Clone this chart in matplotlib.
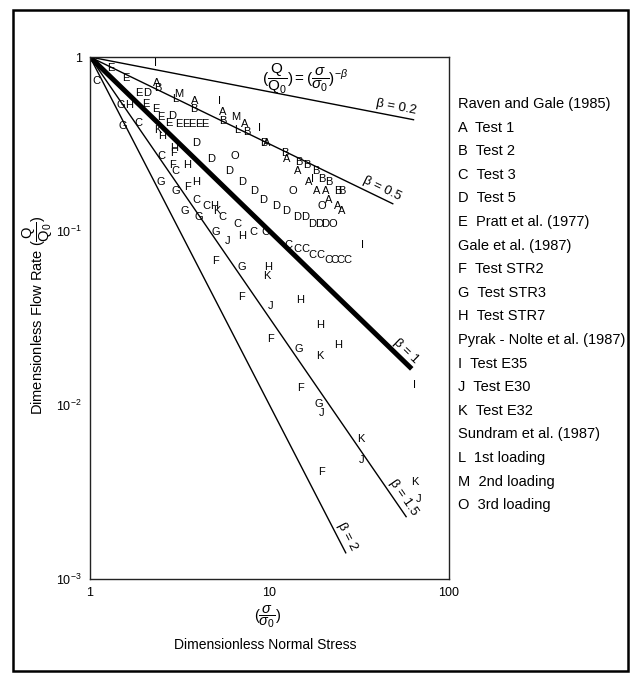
import numpy as np
import matplotlib.pyplot as plt
from matplotlib.patches import Rectangle

plt.rcParams.update({
    'font.family': 'Liberation Sans',
    'mathtext.fontset': 'custom',
    'mathtext.rm': 'Liberation Sans',
    'mathtext.it': 'Liberation Sans:italic',
    'mathtext.sf': 'Liberation Sans',
})

# power-law lines Q/Q0 = (s/s0)^-beta
BETAS = [0.2, 0.5, 1.0, 1.5, 2.0]
BETA_XEND = [64, 49, 62, 58, 26.7]

# measured points, (normal stress ratio, flow rate ratio)
pts_A = [(2.35, 0.71), (3.84, 0.56), (5.48, 0.48), (7.24, 0.41), (9.7, 0.32),
         (12.4, 0.26), (14.4, 0.22), (16.6, 0.19), (18.2, 0.17), (20.5, 0.17),
         (21.4, 0.15), (24.1, 0.14), (25.4, 0.13)]
pts_B = [(2.38, 0.66), (3.79, 0.50), (5.48, 0.43), (7.43, 0.37), (9.25, 0.32),
         (12.1, 0.28), (14.6, 0.25), (16.1, 0.24), (18.2, 0.22), (19.6, 0.20),
         (21.4, 0.19), (24.1, 0.17), (25.4, 0.17)]
pts_C = [(1.09, 0.73), (1.86, 0.42), (2.51, 0.27), (3.00, 0.22), (3.94, 0.15),
         (4.48, 0.14), (5.48, 0.12), (6.61, 0.11), (8.18, 0.099), (9.50, 0.099),
         (12.8, 0.083), (14.4, 0.079), (15.8, 0.079), (17.3, 0.073), (19.1, 0.073),
         (21.4, 0.068), (22.9, 0.068), (25.0, 0.068), (27.1, 0.068)]
pts_D = [(2.09, 0.62), (2.85, 0.46), (3.89, 0.32), (4.75, 0.26), (5.92, 0.22),
         (7.01, 0.19), (8.18, 0.17), (9.25, 0.15), (10.9, 0.14), (12.4, 0.13),
         (14.2, 0.12), (15.8, 0.12), (17.3, 0.11), (18.9, 0.11), (20.5, 0.11)]
pts_E = [(1.31, 0.86), (1.59, 0.76), (1.88, 0.62), (2.04, 0.54), (2.32, 0.50),
         (2.47, 0.45), (2.74, 0.42), (3.12, 0.41), (3.42, 0.41), (3.69, 0.41),
         (4.04, 0.41), (4.37, 0.41)]
pts_F = [(2.93, 0.28), (2.89, 0.24), (3.51, 0.18), (5.0, 0.067), (7.01, 0.042),
         (10.1, 0.024), (14.8, 0.0126), (19.6, 0.0041)]
pts_G = [(1.49, 0.53), (1.53, 0.40), (2.47, 0.19), (3.00, 0.17), (3.36, 0.13),
         (4.04, 0.12), (5.0, 0.099), (7.01, 0.062), (14.6, 0.021), (18.9, 0.0102)]
pts_H = [(1.66, 0.53), (2.51, 0.35), (2.96, 0.30), (3.46, 0.24), (3.89, 0.19),
         (4.91, 0.14), (7.01, 0.094), (9.87, 0.062), (14.8, 0.040), (19.1, 0.029),
         (24.1, 0.022)]
pts_I = [(2.32, 0.92), (5.24, 0.56), (8.79, 0.39), (17.3, 0.20), (32.9, 0.083),
         (64.4, 0.013)]
pts_J = [(5.81, 0.088), (10.1, 0.037), (19.6, 0.0090), (32.4, 0.0048), (67.8, 0.0029)]
pts_K = [(2.38, 0.38), (5.10, 0.13), (9.62, 0.055), (19.1, 0.019), (32.4, 0.0064),
         (64.4, 0.0036)]
pts_L = [(3.00, 0.57), (6.61, 0.38)]
pts_M = [(3.12, 0.61), (6.48, 0.45)]
pts_O = [(6.42, 0.27), (13.5, 0.17), (19.6, 0.14), (22.5, 0.11)]

SERIES = {'A': pts_A, 'B': pts_B, 'C': pts_C, 'D': pts_D, 'E': pts_E,
          'F': pts_F, 'G': pts_G, 'H': pts_H, 'I': pts_I, 'J': pts_J,
          'K': pts_K, 'L': pts_L, 'M': pts_M, 'O': pts_O}

KEY_LINES = [
    'Raven and Gale (1985)',
    'A  Test 1',
    'B  Test 2',
    'C  Test 3',
    'D  Test 5',
    'E  Pratt et al. (1977)',
    'Gale et al. (1987)',
    'F  Test STR2',
    'G  Test STR3',
    'H  Test STR7',
    'Pyrak - Nolte et al. (1987)',
    'I  Test E35',
    'J  Test E30',
    'K  Test E32',
    'Sundram et al. (1987)',
    'L  1st loading',
    'M  2nd loading',
    'O  3rd loading',
]

W, H = 636, 677
fig = plt.figure(figsize=(W / 100, H / 100), dpi=100)
ax = fig.add_axes([90 / W, 1 - 579 / H, (449 - 90) / W, (579 - 57) / H])
ax.set_xscale('log')
ax.set_yscale('log')
ax.set_xlim(1, 100)
ax.set_ylim(1e-3, 1)

for b, xe in zip(BETAS, BETA_XEND):
    lw = 3.6 if b == 1.0 else 1.0
    ax.plot([1, xe], [1, xe ** -b], color='black', lw=lw, solid_capstyle='butt')

for letter, pts in SERIES.items():
    for x, y in pts:
        ax.text(x, y, letter, ha='center', va='center', fontsize=8)

# beta labels laid along each line, just above it
label_x = [50, 40.5, 53.4, 51, 24.6]
for b, xl in zip(BETAS, label_x):
    p0 = ax.transData.transform((xl, xl ** -b))
    p1 = ax.transData.transform((xl * 1.1, (xl * 1.1) ** -b))
    ang = np.degrees(np.arctan2(p1[1] - p0[1], p1[0] - p0[0]))
    nx, ny = -np.sin(np.radians(ang)), np.cos(np.radians(ang))
    ax.annotate(f'\u03b2 = {b:g}', (xl, xl ** -b), xytext=(9 * nx, 9 * ny),
                textcoords='offset pixels', rotation=ang, rotation_mode='anchor',
                ha='center', va='center', fontsize=9.5)

ax.text(0.60, 0.958,
        r'$(\dfrac{\mathrm{Q}}{\mathrm{Q_0}}) = (\dfrac{\sigma}{\sigma_0})^{-\beta}$',
        transform=ax.transAxes, ha='center', va='center', fontsize=11)

ax.set_xticks([1, 10, 100])
ax.set_xticklabels(['1', '10', '100'])
ax.set_yticks([1e-3, 1e-2, 1e-1, 1])
ax.set_yticklabels([r'$10^{-3}$', r'$10^{-2}$', r'$10^{-1}$', '1'])
ax.minorticks_off()
ax.tick_params(length=0, labelsize=9, pad=6)
for sp in ax.spines.values():
    sp.set_linewidth(1.0)
    sp.set_color('#222222')

fig.text(38 / W, 1 - 315 / H,
         r'Dimensionless Flow Rate $(\dfrac{\mathrm{Q}}{\mathrm{Q_0}})$',
         rotation=90, ha='center', va='center', fontsize=10.5)
fig.text(268 / W, 1 - 617 / H, r'$(\dfrac{\sigma}{\sigma_0})$',
         ha='center', va='center', fontsize=10.5)
fig.text(265 / W, 1 - 645 / H, 'Dimensionless Normal Stress',
         ha='center', va='center', fontsize=10)

for i, line in enumerate(KEY_LINES):
    fig.text(458 / W, 1 - (104 + i * 23.6) / H, line,
             ha='left', va='center', fontsize=10.5)

fig.patches.append(Rectangle((13 / W, 1 - 671 / H), (628 - 13) / W, (671 - 10) / H,
                             transform=fig.transFigure, fill=False, lw=1.8,
                             edgecolor='black'))

fig.savefig('out.png', dpi=100)
